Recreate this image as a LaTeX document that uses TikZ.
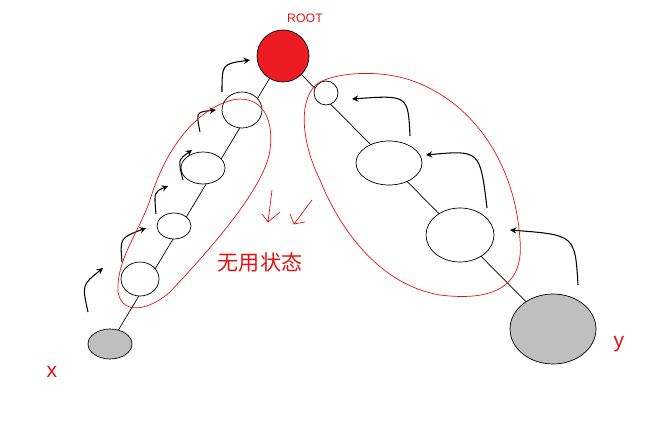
\documentclass[tikz,border=0pt]{standalone}
\usepackage{fontspec}
\newfontfamily\cjk{Noto Sans CJK SC}
\setsansfont{Liberation Sans}
\usetikzlibrary{shapes.geometric}
\usetikzlibrary{positioning}
\definecolor{rootred}{RGB}{237,28,36}
\definecolor{pen}{RGB}{225,20,20}
\tikzset{
  st/.style={ellipse,draw,thin,fill=white,inner sep=0pt},
  hop/.style={->,>=stealth,semithick,black},
  blob/.style={pen,thin},
}
\begin{document}
\begin{tikzpicture}[x=0.02cm,y=-0.02cm]
\useasboundingbox (0,0) rectangle (648,428);
% chain lines
\draw (110,344) -- (283,56) -- (553,329);
% states
\node[st,fill=rootred,minimum width=1.04cm,minimum height=1.04cm] (root) at (283,56) {};
\node[st,minimum width=0.8cm,minimum height=0.72cm] (l4) at (242,110) {};
\node[st,minimum width=0.88cm,minimum height=0.64cm] (l3) at (203,168) {};
\node[st,minimum width=0.68cm,minimum height=0.52cm] (l2) at (174,226) {};
\node[st,minimum width=0.76cm,minimum height=0.68cm] (l1) at (140,279) {};
\node[st,fill=gray!50,minimum width=0.88cm,minimum height=0.6cm] (x) at (110,344) {};
\node[st,minimum width=0.48cm,minimum height=0.48cm] (r1) at (326,93) {};
\node[st,minimum width=1.32cm,minimum height=0.88cm] (r2) at (389,163) {};
\node[st,minimum width=1.36cm,minimum height=1.08cm] (r3) at (460,235) {};
\node[st,fill=gray!50,minimum width=1.72cm,minimum height=1.4cm] (y) at (553,329) {};
% labels
\node[pen,font=\sffamily\scriptsize] (rootlbl) at (305,18) {ROOT};
\node[pen,font=\sffamily\large] (xlbl) at (52,372) {x};
\node[pen,font=\sffamily\large] (ylbl) at (619,344) {y};
\node[pen,font=\cjk\large] (useless) at (260,263) {无用状态};
% hops, x side
\draw[hop] (88,312) .. controls (82,285) .. (103,268);
\draw[hop] (122,262) .. controls (120,238) .. (146,228);
\draw[hop] (156,214) .. controls (154,192) .. (168,186);
\draw[hop] (183,180) .. controls (178,160) .. (192,150);
\draw[hop] (200,132) .. controls (196,112) .. (216,110);
\draw[hop] (222,92) .. controls (222,64) .. (250,60);
% hops, y side
\draw[hop] (578,285) .. controls (575,235) .. (510,230);
\draw[hop] (487,208) .. controls (480,150) .. (426,155);
\draw[hop] (410,136) .. controls (408,95) .. (352,99);
% useless regions
\draw[blob] (232,100) .. controls (255,95) and (275,110) .. (270,150)
  .. controls (265,190) and (200,260) .. (170,292)
  .. controls (150,310) and (122,316) .. (118,292)
  .. controls (116,260) and (140,230) .. (150,200)
  .. controls (165,150) and (195,110) .. (232,100);
\draw[blob] (320,82) .. controls (340,72) and (380,70) .. (410,80)
  .. controls (470,100) and (515,160) .. (520,240)
  .. controls (525,295) and (480,300) .. (440,295)
  .. controls (380,285) and (340,230) .. (320,180)
  .. controls (300,140) and (298,95) .. (320,82);
% pointers
\draw[blob] (272,190) -- (268,222) -- (262,214) (268,222) -- (280,212);
\draw[blob] (312,200) -- (294,224) -- (290,214) (294,224) -- (305,222);
\end{tikzpicture}
\end{document}
